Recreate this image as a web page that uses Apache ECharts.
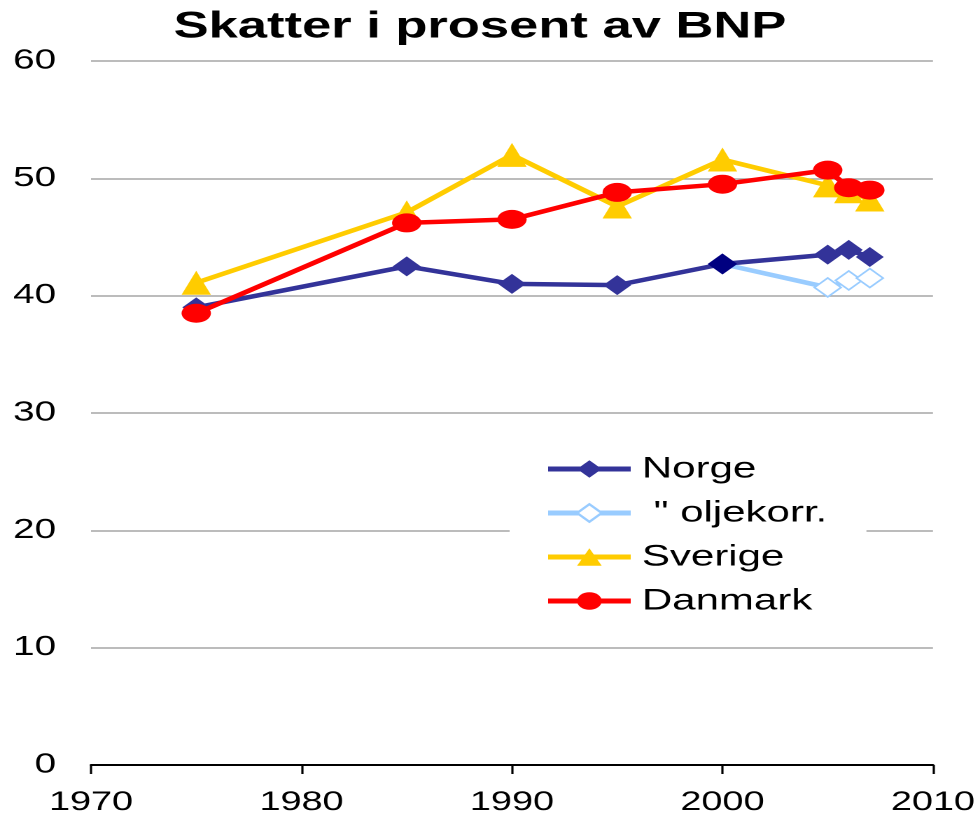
<!DOCTYPE html>
<html>
<head>
<meta charset="utf-8">
<script src="https://cdn.jsdelivr.net/npm/echarts@6/dist/echarts.min.js"></script>
<style>
html, body { margin: 0; padding: 0; background: #fff; overflow: hidden; }
/* the original picture is stretched sideways, so the chart is drawn narrow and widened */
#main { width: 700px; height: 821px; transform: scaleX(1.4); transform-origin: 0 0; }
</style>
</head>
<body>
<div id="main"></div>
<script>
var dom = document.getElementById("main");
var myChart = echarts.init(dom, null, { devicePixelRatio: 2 });

var years = [1975, 1985, 1990, 1995, 2000, 2005, 2006, 2007];
var norge = [39.0, 42.5, 41.0, 40.9, 42.7, 43.5, 43.9, 43.3];
var oljeYears = [2000, 2005, 2006, 2007];
var olje = [42.7, 40.7, 41.3, 41.5];
var sverige = [41.1, 47.1, 52.0, 47.6, 51.6, 49.4, 48.9, 48.2];
var danmark = [38.5, 46.2, 46.5, 48.8, 49.5, 50.7, 49.2, 49.0];
var names = ['Norge', ' " oljekorr.', 'Sverige', 'Danmark'];

function pairs(xs, ys) {
    return xs.map(function (x, i) { return [x, ys[i]]; });
}

var oljeData = pairs(oljeYears, olje);
oljeData[0] = { value: oljeData[0], itemStyle: { color: '#000080', borderColor: '#000080' } };

var font = 'Liberation Sans';

option = {
    animation: false,
    title: {
        text: 'Skatter i prosent av BNP',
        left: 119,
        top: 3,
        textStyle: { fontFamily: font, fontSize: 37.5, fontWeight: 'bold', color: '#000' }
    },
    grid: { left: 65, right: 33.6, top: 61, bottom: 56 },
    xAxis: {
        type: 'value',
        min: 1970, max: 2010, interval: 10,
        axisLine: { lineStyle: { color: '#000', width: 2 } },
        axisTick: { length: 9, lineStyle: { color: '#000', width: 1.6 } },
        splitLine: { show: false },
        axisLabel: {
            fontFamily: font, fontSize: 27, color: '#000', margin: 24,
            formatter: function (v) { return String(v); }
        }
    },
    yAxis: {
        type: 'value',
        min: 0, max: 60, interval: 10,
        axisLine: { show: false },
        axisTick: { show: false },
        splitLine: { lineStyle: { color: '#a6a6a6', width: 1.5 } },
        axisLabel: { fontFamily: font, fontSize: 27.5, color: '#000', margin: 25 }
    },
    legend: {
        orient: 'vertical',
        left: 364, top: 450,
        padding: [4, 28, 4, 25],
        backgroundColor: '#fff',
        itemWidth: 59, itemHeight: 22, itemGap: 14,
        lineStyle: { width: 5 },
        textStyle: { fontFamily: font, fontSize: 30, lineHeight: 30, color: '#000', padding: [0, 0, 0, 3] },
        data: names
    },
    series: [{
        name: names[0], type: 'line',
        data: pairs(years, norge),
        color: '#333399',
        lineStyle: { width: 4.5 },
        symbol: 'diamond', symbolSize: 20,
        itemStyle: { color: '#333399' },
        z: 3
    }, {
        name: names[1], type: 'line',
        data: oljeData,
        color: '#99CCFF',
        lineStyle: { width: 4.5, color: '#99CCFF' },
        symbol: 'diamond', symbolSize: 19,
        itemStyle: { color: '#fff', borderColor: '#99CCFF', borderWidth: 1.5 },
        z: 4
    }, {
        name: names[2], type: 'line',
        data: pairs(years, sverige),
        color: '#FFCC00',
        lineStyle: { width: 4.5 },
        symbol: 'triangle', symbolSize: [21, 24],
        itemStyle: { color: '#FFCC00' },
        z: 2
    }, {
        name: names[3], type: 'line',
        data: pairs(years, danmark),
        color: '#FF0000',
        lineStyle: { width: 4.5 },
        symbol: 'circle', symbolSize: [21, 19],
        itemStyle: { color: '#FF0000' },
        z: 5
    }]
};

if (option && typeof option === "object") {
    myChart.setOption(option, true);
}
</script>
</body>
</html>
